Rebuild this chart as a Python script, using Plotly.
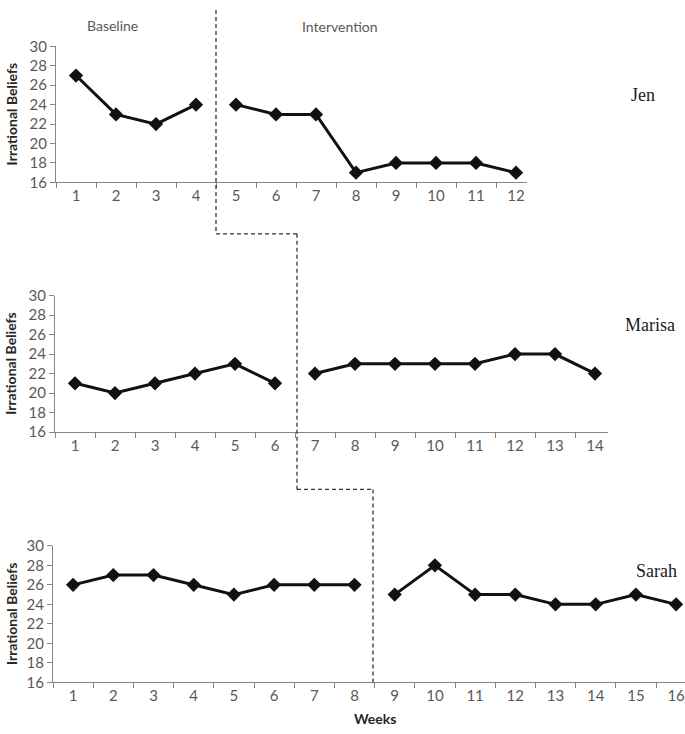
import plotly.graph_objects as go

# ---------------- data ----------------
jen_weeks = [str(w) for w in range(1, 13)]
jen_base_weeks = ["1", "2", "3", "4"]
jen_base = [27, 23, 22, 24]
jen_int_weeks = ["5", "6", "7", "8", "9", "10", "11", "12"]
jen_int = [24, 23, 23, 17, 18, 18, 18, 17]

marisa_weeks = [str(w) for w in range(1, 15)]
marisa_base_weeks = ["1", "2", "3", "4", "5", "6"]
marisa_base = [21, 20, 21, 22, 23, 21]
marisa_int_weeks = ["7", "8", "9", "10", "11", "12", "13", "14"]
marisa_int = [22, 23, 23, 23, 23, 24, 24, 22]

sarah_weeks = [str(w) for w in range(1, 17)]
sarah_base_weeks = ["1", "2", "3", "4", "5", "6", "7", "8"]
sarah_base = [26, 27, 27, 26, 25, 26, 26, 26]
sarah_int_weeks = ["9", "10", "11", "12", "13", "14", "15", "16"]
sarah_int = [25, 28, 25, 25, 24, 24, 25, 24]

names = ["Jen", "Marisa", "Sarah"]
y_ticks = [16, 18, 20, 22, 24, 26, 28, 30]

# ---------------- layout helpers ----------------
W, H = 685, 734
def px_x(x): return x / W
def px_y(y): return (H - y) / H

AXIS_COL = "#868686"
TICK_COL = "#595959"
FONT = "Lato"

fig = go.Figure()

line_style = dict(color="#111111", width=3)
marker_style = dict(symbol="diamond", size=11, color="#111111")

panels = [
    (jen_weeks, jen_base_weeks, jen_base, jen_int_weeks, jen_int),
    (marisa_weeks, marisa_base_weeks, marisa_base, marisa_int_weeks, marisa_int),
    (sarah_weeks, sarah_base_weeks, sarah_base, sarah_int_weeks, sarah_int),
]
# pixel geometry: (x_left, x_right, y_top, y_bottom, px per category)
geom = [
    (56, 527, 37.3, 176.7, 40.0),
    (55, 608, 292.7, 432.7, 40.0),
    (53, 685, 549.3, 689.3, 40.2),
]

for i, (cats, bw, bv, iw, iv) in enumerate(panels):
    xa = "x" if i == 0 else f"x{i+1}"
    ya = "y" if i == 0 else f"y{i+1}"
    for xs, ys in ((bw, bv), (iw, iv)):
        fig.add_trace(go.Scatter(x=xs, y=ys, mode="lines+markers",
                                 line=line_style, marker=marker_style,
                                 xaxis=xa, yaxis=ya, showlegend=False,
                                 hoverinfo="x+y"))
    x0, x1, yt, yb, cw = geom[i]
    rmax = -0.5 + (x1 - x0) / cw
    xkey = "xaxis" if i == 0 else f"xaxis{i+1}"
    ykey = "yaxis" if i == 0 else f"yaxis{i+1}"
    fig.layout[xkey] = dict(
        type="category", categoryorder="array", categoryarray=cats,
        domain=[px_x(x0), px_x(x1)], range=[-0.5, rmax],
        anchor=ya, showline=True, linecolor=AXIS_COL, linewidth=1,
        ticks="outside", ticklen=5, tickcolor=AXIS_COL, tickson="boundaries",
        tickfont=dict(family=FONT, size=15, color=TICK_COL),
        showgrid=False, zeroline=False, fixedrange=True,
    )
    fig.layout[ykey] = dict(
        domain=[px_y(yb), px_y(yt)], range=[16, 30],
        tickvals=y_ticks, anchor=xa, showline=True, linecolor=AXIS_COL,
        linewidth=1, ticks="outside", ticklen=5, tickcolor=AXIS_COL,
        tickfont=dict(family=FONT, size=15, color=TICK_COL),
        showgrid=False, zeroline=False, fixedrange=True,
    )
    # y axis title
    fig.add_annotation(text="<b>Irrational Beliefs</b>", xref="paper", yref="paper",
                       x=px_x(11), y=px_y((yt + yb) / 2), textangle=-90,
                       showarrow=False, xanchor="center", yanchor="middle",
                       font=dict(family=FONT, size=14, color="#262626"))

# participant names
name_pos = [(643, 87), (650, 323), (656, 575)]
for n, (nx, ny) in zip(names, name_pos):
    fig.add_annotation(text=n, xref="paper", yref="paper", x=px_x(nx), y=px_y(ny),
                       showarrow=False, xanchor="center", yanchor="middle",
                       font=dict(family="Liberation Serif", size=18, color="#1a1a1a"))

# phase labels
fig.add_annotation(text="Baseline", xref="paper", yref="paper", x=px_x(112), y=px_y(16),
                   showarrow=False, xanchor="center", yanchor="middle",
                   font=dict(family=FONT, size=14, color=TICK_COL))
fig.add_annotation(text="Intervention", xref="paper", yref="paper", x=px_x(340), y=px_y(17),
                   showarrow=False, xanchor="center", yanchor="middle",
                   font=dict(family=FONT, size=14, color=TICK_COL))
fig.add_annotation(text="<b>Weeks</b>", xref="paper", yref="paper", x=px_x(375), y=px_y(726),
                   showarrow=False, xanchor="center", yanchor="middle",
                   font=dict(family=FONT, size=14, color="#262626"))

# phase-change dashed line (stepped)
dash = dict(color="#333333", width=1.3, dash="4px,3px")
x_a, x_b, x_c = 216, 297, 373
y_a, y_b, y_c = 229.5, 491.5, 690
segs = [
    (x_a, 0, x_a, y_a), (x_a, y_a, x_b, y_a),
    (x_b, y_a, x_b, y_b), (x_b, y_b, x_c, y_b),
    (x_c, y_b, x_c, y_c),
]
for sx0, sy0, sx1, sy1 in segs:
    fig.add_shape(type="line", xref="paper", yref="paper",
                  x0=px_x(sx0), y0=px_y(sy0), x1=px_x(sx1), y1=px_y(sy1),
                  line=dash, layer="above")

fig.update_layout(width=W, height=H, margin=dict(l=0, r=0, t=0, b=0),
                  paper_bgcolor="white", plot_bgcolor="white",
                  font=dict(family=FONT))

fig.write_html("out.html", config={"displayModeBar": False},
               post_script="document.body.style.margin='0';document.body.style.overflow='hidden';")
